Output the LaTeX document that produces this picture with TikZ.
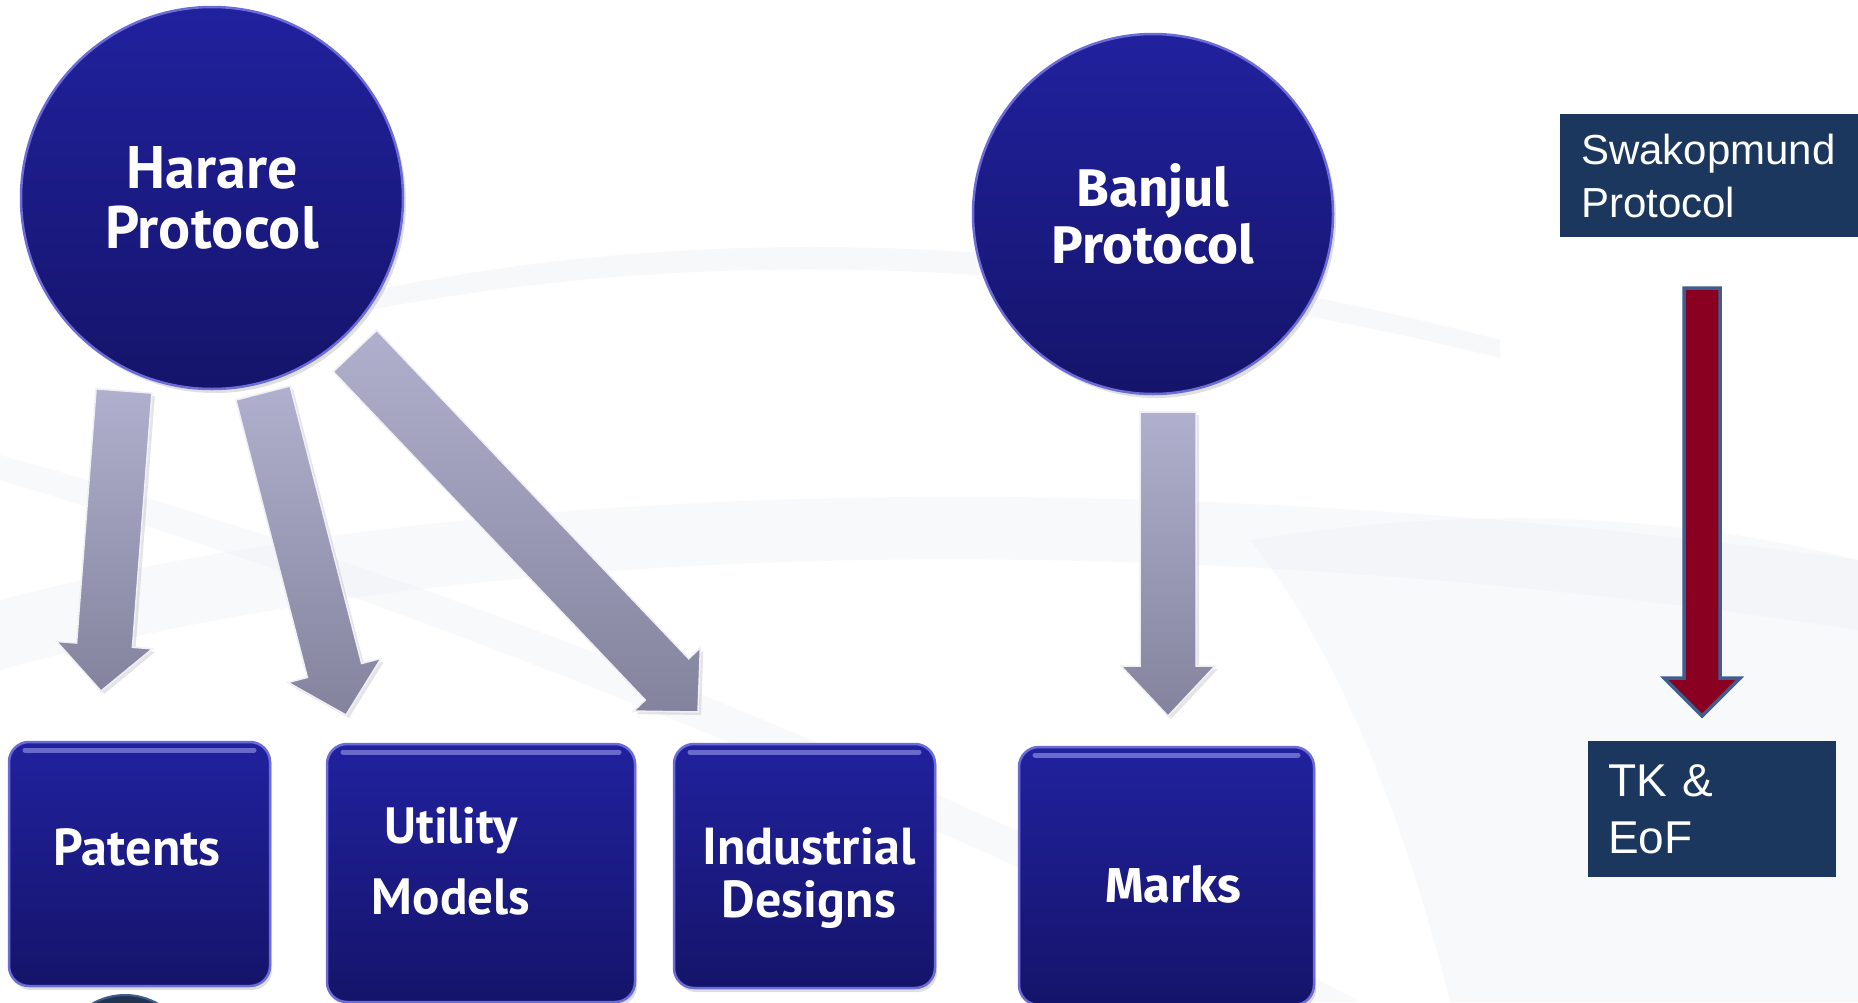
\documentclass[tikz,border=0pt]{standalone}
\usepackage{fontspec}
\setmainfont{Liberation Sans}
\newfontfamily\gillfont{PT Sans}
\newfontfamily\heavyfont{Fira Sans}
\usetikzlibrary{calc,shadows}
\definecolor{blueT}{HTML}{21219E}
\definecolor{blueB}{HTML}{15146A}
\definecolor{rimblue}{HTML}{6C6CD8}
\definecolor{navy}{HTML}{1B375D}
\definecolor{wine}{HTML}{8A0020}
\definecolor{steel}{HTML}{3E5F8E}
\definecolor{greyT}{HTML}{B0B0CE}
\definecolor{greyB}{HTML}{83839D}
\definecolor{swoosh}{HTML}{E8EDF2}
\definecolor{darkorb}{HTML}{22344F}

\newcommand\fatarrow[6]{%
  \coordinate (facc) at ($(#3)!#6!(#2)$);
  \path[#1] ($(#2)!#4!90:(#3)$) -- ($(facc)!#4!90:(#3)$) -- ($(facc)!#5!90:(#3)$)
    -- (#3) -- ($(facc)!#5!-90:(#3)$) -- ($(facc)!#4!-90:(#3)$)
    -- ($(#2)!#4!-90:(#3)$) -- cycle;
}

\begin{document}
\begin{tikzpicture}[x=1pt, y=-1pt,
  orb/.style={circle, inner sep=0pt, top color=blueT, bottom color=blueB,
    draw=rimblue, line width=2.5pt, text=white, align=center,
    drop shadow={opacity=.25, shadow xshift=3pt, shadow yshift=-4pt}},
  tile/.style={rectangle, rounded corners=20pt, inner sep=0pt,
    top color=blueT, bottom color=blueB, draw=rimblue, line width=2.5pt,
    drop shadow={opacity=.25, shadow xshift=2pt, shadow yshift=-4pt},
    path picture={\draw[line width=5pt, color=rimblue!80!white, opacity=.7, line cap=round]
      ([xshift=16pt,yshift=-8pt]path picture bounding box.north west) --
      ([xshift=-16pt,yshift=-8pt]path picture bounding box.north east);}},
  tiletext/.style={text=white, inner sep=0pt, align=center,
    font=\gillfont\bfseries\fontsize{52}{53}\selectfont},
  navybox/.style={rectangle, fill=navy, text=white, align=left, inner ysep=0pt},
  greyarrow/.style={top color=greyT, bottom color=greyB, draw=white!80!greyT,
    line width=1.5pt, line join=miter,
    drop shadow={opacity=.2, shadow xshift=3pt, shadow yshift=-3pt}},
  redarrow/.style={fill=wine, draw=steel, line width=3.5pt, line join=miter}
]
\useasboundingbox (0,0) rectangle (1858,1002);
\clip (0,0) rectangle (1858,1002);
\fill[white] (0,0) rectangle (1858,1002);

% faint background swooshes
\fill[swoosh, opacity=.35] (330,300) .. controls (700,215) and (1100,235) .. (1500,340)
  -- (1500,358) .. controls (1100,258) and (700,240) .. (330,318) -- cycle;
\fill[swoosh, opacity=.3] (0,600) .. controls (500,470) and (1200,470) .. (1858,560)
  -- (1858,630) .. controls (1200,530) and (500,530) .. (0,670) -- cycle;
\fill[swoosh, opacity=.3] (0,480) .. controls (400,600) and (900,800) .. (1300,1002)
  -- (1360,1002) .. controls (950,780) and (450,580) .. (0,455) -- cycle;
\fill[swoosh, opacity=.3] (1250,540) .. controls (1500,500) and (1700,520) .. (1858,560)
  -- (1858,1002) -- (1450,1002) .. controls (1400,800) and (1330,640) .. (1250,540) -- cycle;

% protocol orbs
\node[orb, minimum size=382pt, font=\gillfont\bfseries\fontsize{60}{60}\selectfont]
  (harare) at (212,198) {Harare\\Protocol};
\node[orb, minimum size=360pt, font=\heavyfont\bfseries\fontsize{53}{57}\selectfont]
  (banjul) at (1153,214) {Banjul\\Protocol};

% tiles
\node[tile, minimum width=261pt, minimum height=244pt] (patents) at (139.5,864) {};
\node[tile, minimum width=308pt, minimum height=258pt] (utility) at (481,873) {};
\node[tile, minimum width=261pt, minimum height=244pt] (industrial) at (804.5,866) {};
\node[tile, minimum width=295pt, minimum height=258pt] (marks) at (1166.5,876) {};
\node[circle, minimum size=132pt, fill=darkorb, draw=steel, line width=2pt] (hidden) at (125,1061) {};

\node[tiletext] (patentsT) at (137,847) {Patents};
\node[tiletext, font=\gillfont\bfseries\fontsize{51}{71}\selectfont] (utilityT) at (451,861) {Utility\\Models};
\node[tiletext] (industrialT) at (809,878) {Industrial\\Designs};
\node[tiletext, font=\heavyfont\bfseries\fontsize{49}{52}\selectfont] (marksT) at (1173,884) {Marks};

% navy boxes
\node[navybox, minimum height=123pt, text width=258pt, inner xsep=21pt,
  font=\fontsize{42}{53}\selectfont] (swakop) at (1710,175.5) {Swakopmund\\Protocol};
\node[navybox, minimum height=136pt, text width=208pt, inner xsep=20pt,
  font=\fontsize{46}{57}\selectfont] (tk) at (1712,809) {TK \&\\EoF};

% arrow end points
\coordinate (pa1) at (124,391);  \coordinate (pa2) at (101,691);
\coordinate (ua1) at (263,393);  \coordinate (ua2) at (346,715);
\coordinate (ia1) at (355,351);  \coordinate (ia2) at (698,712);
\coordinate (ma1) at (1168,412); \coordinate (ma2) at (1168,716);
\coordinate (ra1) at (1702,288); \coordinate (ra2) at (1702,716);

\fatarrow{greyarrow}{pa1}{pa2}{28pt}{48pt}{46pt}
\fatarrow{greyarrow}{ua1}{ua2}{28pt}{48pt}{46pt}
\fatarrow{greyarrow}{ia1}{ia2}{30pt}{46pt}{45pt}
\fatarrow{greyarrow}{ma1}{ma2}{28pt}{47pt}{50pt}
\fatarrow{redarrow}{ra1}{ra2}{18pt}{38pt}{38pt}
\end{tikzpicture}
\end{document}
